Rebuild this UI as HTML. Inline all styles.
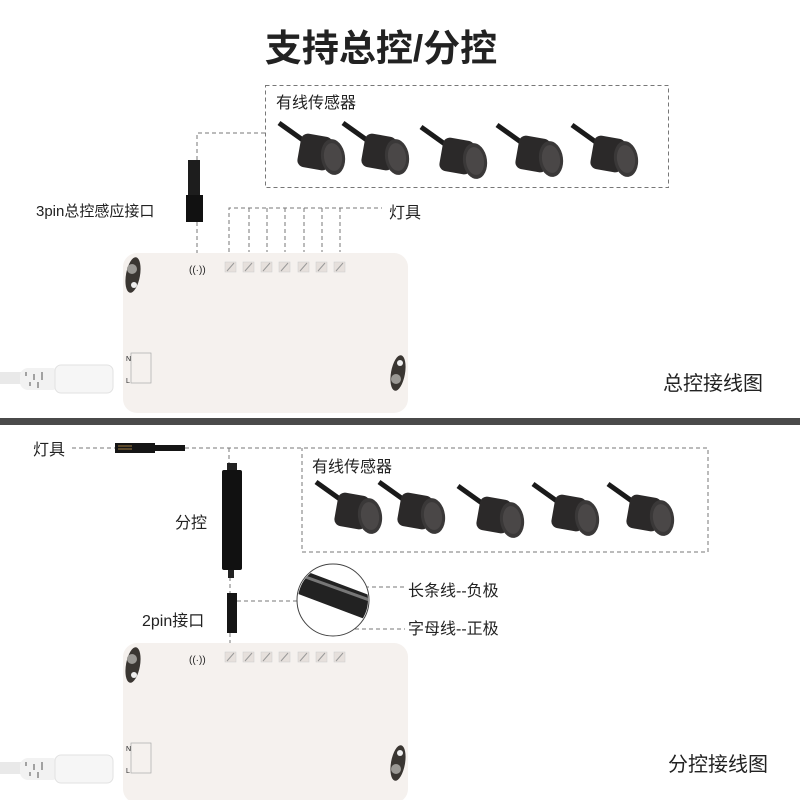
<!DOCTYPE html>
<html><head><meta charset="utf-8"><style>
html,body{margin:0;padding:0;background:#fff;}
svg{display:block}
text{font-family:"Liberation Sans","Noto Sans CJK SC",sans-serif;fill:#222;}
</style></head><body>
<svg width="800" height="800" viewBox="0 0 800 800" xmlns="http://www.w3.org/2000/svg">
<defs>
<g id="sensor">
  <path d="M0 0 L28 20" stroke="#1a1a1a" stroke-width="5" fill="none"/>
  <rect x="20" y="12" width="32" height="34" rx="7" fill="#2b2929" transform="rotate(10 36 29)"/>
  <ellipse cx="54" cy="34" rx="12" ry="18" fill="#3a3838" transform="rotate(-8 54 34)"/>
  <ellipse cx="54" cy="34" rx="9" ry="14" fill="#4a4747" transform="rotate(-8 54 34)"/>
</g>
<g id="ctrl">
  <rect x="0" y="0" width="285" height="160" rx="14" fill="#f5f1ee"/>
  <ellipse cx="10" cy="22" rx="7" ry="18" fill="#3a3632" transform="rotate(10 10 22)"/>
  <circle cx="9" cy="16" r="5" fill="#9a9894"/>
  <circle cx="11" cy="32" r="3" fill="#eee"/>
  <text x="66" y="20" font-size="10" fill="#bbb">((·))</text>
  <g fill="#e6e0dc" stroke="#ccc" stroke-width="0.5">
    <rect x="102" y="9" width="11" height="10"/><rect x="120" y="9" width="11" height="10"/>
    <rect x="138" y="9" width="11" height="10"/><rect x="156" y="9" width="11" height="10"/>
    <rect x="175" y="9" width="11" height="10"/><rect x="193" y="9" width="11" height="10"/>
    <rect x="211" y="9" width="11" height="10"/>
  </g>
  <g stroke="#999" stroke-width="1">
    <path d="M104 18 L111 10 M122 18 L129 10 M140 18 L147 10 M158 18 L165 10 M177 18 L184 10 M195 18 L202 10 M213 18 L220 10"/>
  </g>
  <rect x="8" y="100" width="20" height="30" fill="none" stroke="#aaa" stroke-width="0.7"/>
  <text x="3" y="108" font-size="7" fill="#666">N</text>
  <text x="3" y="130" font-size="7" fill="#666">L</text>
  <ellipse cx="275" cy="120" rx="7" ry="18" fill="#3a3632" transform="rotate(10 275 120)"/>
  <circle cx="273" cy="126" r="5" fill="#9a9894"/>
  <circle cx="277" cy="110" r="3" fill="#eee"/>
</g>
<g id="plug">
  <path d="M0 8 L40 8" stroke="#e9e9e9" stroke-width="12"/>
  <rect x="20" y="-2" width="40" height="22" rx="8" fill="#f2f2f2"/>
  <rect x="55" y="-5" width="58" height="28" rx="6" fill="#f6f6f6" stroke="#e2e2e2"/>
  <path d="M26 2v4 M34 4v6 M42 2v8 M30 12v4 M38 12v6" stroke="#888" stroke-width="1.5"/>
</g>
</defs>

<text x="381" y="61" font-size="37" font-weight="bold" text-anchor="middle" fill="#222">支持总控/分控</text>

<g stroke="#777" stroke-width="1" stroke-dasharray="4,3" fill="none">
  <rect x="265.5" y="85.5" width="403" height="102"/>
  <path d="M197 160 V133 H265"/>
  <path d="M197 222 V255"/>
  <path d="M229 252 V208 H382 M249 208 V252 M267 208 V252 M285 208 V252 M304 208 V252 M322 208 V252 M340 208 V252"/>
</g>
<text x="276" y="108" font-size="16">有线传感器</text>
<use href="#sensor" x="279" y="123"/>
<use href="#sensor" x="343" y="123"/>
<use href="#sensor" x="421" y="127"/>
<use href="#sensor" x="497" y="125"/>
<use href="#sensor" x="572" y="125"/>
<rect x="188" y="160" width="12" height="36" fill="#1d1d1d"/>
<rect x="186" y="195" width="17" height="27" fill="#111"/>
<text x="36" y="216" font-size="15">3pin总控感应接口</text>
<text x="389" y="218" font-size="16">灯具</text>
<use href="#ctrl" x="123" y="253"/>
<use href="#plug" x="0" y="370"/>
<text x="663" y="390" font-size="20">总控接线图</text>

<rect x="0" y="418" width="800" height="7" fill="#4a4a4a"/>

<g stroke="#777" stroke-width="1" stroke-dasharray="4,3" fill="none">
  <path d="M72 448 H115 M185 448 H232"/>
  <path d="M229 448 V470 M234 448 H708 V552 H302 V448"/>
  <path d="M230 570 V593 M230 633 V645"/>
  <path d="M237 601 H298"/>
  <path d="M365 587 H405 M355 629 H405"/>
</g>
<text x="33" y="455" font-size="16">灯具</text>
<rect x="115" y="443" width="40" height="10" fill="#151515"/>
<path d="M118 446h14 M118 449h14" stroke="#a07a40" stroke-width="1"/>
<rect x="155" y="445" width="30" height="6" fill="#151515"/>
<text x="312" y="472" font-size="16">有线传感器</text>
<use href="#sensor" x="316" y="482"/>
<use href="#sensor" x="379" y="482"/>
<use href="#sensor" x="458" y="486"/>
<use href="#sensor" x="533" y="484"/>
<use href="#sensor" x="608" y="484"/>
<rect x="227" y="463" width="10" height="8" fill="#222"/>
<rect x="222" y="470" width="20" height="100" rx="2" fill="#111"/>
<rect x="228" y="570" width="6" height="8" fill="#222"/>
<text x="175" y="528" font-size="16">分控</text>
<rect x="227" y="593" width="10" height="40" fill="#151515"/>
<text x="142" y="626" font-size="16">2pin接口</text>
<circle cx="333" cy="600" r="36" fill="#fff" stroke="#444" stroke-width="1"/>
<clipPath id="cc"><circle cx="333" cy="600" r="35"/></clipPath>
<g clip-path="url(#cc)">
  <path d="M290 578 L380 612" stroke="#222" stroke-width="24"/>
  <path d="M300 575 L375 602" stroke="#777" stroke-width="3"/>
</g>
<text x="408" y="596" font-size="16">长条线--负极</text>
<text x="408" y="634" font-size="16">字母线--正极</text>
<use href="#ctrl" x="123" y="643"/>
<use href="#plug" x="0" y="760"/>
<text x="668" y="771" font-size="20">分控接线图</text>
</svg>
</body></html>
